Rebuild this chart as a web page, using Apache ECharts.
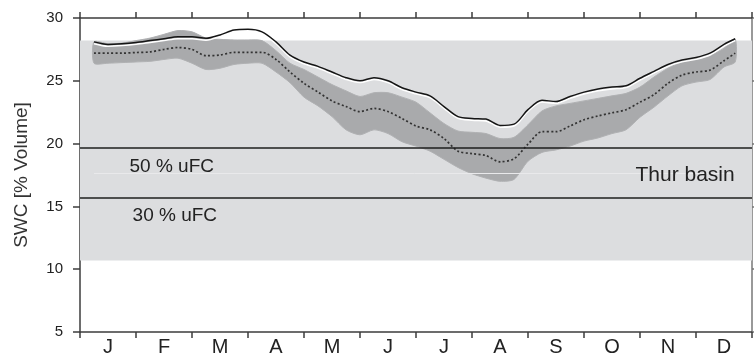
<!DOCTYPE html>
<html>
<head>
<meta charset="utf-8">
<script src="https://cdn.jsdelivr.net/npm/echarts@6/dist/echarts.min.js"></script>
<style>html,body{margin:0;padding:0;background:#fff}#c{width:754px;height:357px}</style>
</head>
<body>
<div id="c"></div>
<script>
// Month labels on the x axis
const monthLabels = ['J','F','M','A','M','J','J','A','S','O','N','D'];
// Y tick values
const yMin = 5, yMax = 30, yStep = 5;
// Time positions of samples (in months from 1 Jan)
const t = [0.25,0.5,0.75,1.0,1.25,1.5,1.75,2.0,2.25,2.5,2.75,3.0,3.25,3.5,3.75,4.0,4.25,4.5,4.75,5.0,5.25,5.5,5.75,6.0,6.25,6.5,6.75,7.0,7.25,7.5,7.75,8.0,8.25,8.5,8.75,9.0,9.25,9.5,9.75,10.0,10.25,10.5,10.75,11.0,11.25,11.5,11.7];
// Solid line (upper reference curve)
const solid = [28.1,27.9,27.95,28.05,28.2,28.35,28.5,28.5,28.38,28.65,29.04,29.1,28.9,28.1,27.05,26.5,26.15,25.7,25.25,25.0,25.25,25.0,24.45,24.1,23.8,22.95,22.15,22.0,21.95,21.45,21.55,22.7,23.45,23.35,23.75,24.1,24.35,24.5,24.6,25.2,25.75,26.3,26.65,26.85,27.2,27.9,28.35];
// Dotted line (median)
const median = [27.2,27.2,27.2,27.25,27.3,27.5,27.65,27.5,27.0,27.05,27.27,27.27,27.27,26.7,25.7,24.8,24.1,23.4,22.95,22.55,22.8,22.55,22.0,21.4,21.1,20.4,19.4,19.2,19.05,18.55,18.8,19.95,20.95,20.95,21.4,21.9,22.2,22.45,22.7,23.3,23.9,24.8,25.45,25.7,25.85,26.6,27.2];
// Dark band upper / lower bounds
const bandUpper = [28.1,27.95,28.0,28.2,28.4,28.7,29.0,28.9,28.4,28.3,28.25,28.25,28.2,27.4,26.4,25.9,25.3,24.7,24.2,23.75,24.05,24.05,23.7,23.3,22.45,21.6,21.0,20.9,20.8,20.4,20.5,21.5,22.6,23.0,23.2,23.4,23.6,23.8,24.0,24.5,25.3,26.0,26.5,26.7,27.0,27.6,28.3];
const bandLower = [26.4,26.4,26.45,26.5,26.55,26.7,26.8,26.4,25.9,26.0,26.3,26.4,26.4,25.7,24.85,23.7,23.0,22.15,21.1,20.7,21.1,20.8,20.15,19.8,19.4,18.75,18.1,17.6,17.25,17.0,17.15,18.6,19.3,19.5,19.8,20.2,20.45,20.8,21.1,22.1,22.9,23.8,24.6,24.9,25.1,26.1,26.5];
// Reference levels
const fc50 = 19.65, fc30 = 15.72, faintLevel = 17.6;
const rangeTop = 28.2, rangeBottom = 10.7;
// Annotations
const notes = [
  {text:'50 % uFC', x:0.875, y:18.14, side:'right', size:19},
  {text:'30 % uFC', x:0.93, y:14.24, side:'right', size:19},
  {text:'Thur basin', x:11.7, y:17.5, side:'left', size:21}
];

const FONT = 'Liberation Sans, Arial, Helvetica, sans-serif';
const AX = '#3c3c3c';
const pair = (arr) => t.map((x,i)=>[x, arr[i]]);
const bandData = t.map((x,i)=>[x, bandLower[i], bandUpper[i]]);

const chart = echarts.init(document.getElementById('c'), null, {renderer:'canvas'});
chart.setOption({
  animation:false,
  backgroundColor:'#fff',
  grid:{left:80, right:2, top:18, bottom:25, containLabel:false, outerBoundsMode:'none'},
  xAxis:[
    {type:'category', data:monthLabels, position:'bottom', boundaryGap:true,
     axisLine:{show:true, lineStyle:{color:AX, width:1.5}},
     axisTick:{show:true, inside:false, length:6, interval:0, alignWithLabel:false, lineStyle:{color:AX, width:1.5}},
     axisLabel:{show:true, interval:0, margin:5, fontSize:20, color:'#222', fontFamily:FONT},
     splitLine:{show:false}},
    {type:'value', min:0, max:12, interval:1, position:'top',
     axisLine:{show:true, lineStyle:{color:AX, width:1.5}},
     axisTick:{show:true, inside:false, length:6, lineStyle:{color:AX, width:1.5}},
     axisLabel:{show:false}, splitLine:{show:false}}
  ],
  yAxis:[
    {type:'value', min:yMin, max:yMax, interval:yStep, position:'left',
     name:'SWC [% Volume]', nameLocation:'middle', nameGap:49,
     nameTextStyle:{fontSize:19, color:'#333', fontFamily:FONT},
     axisLine:{show:true, lineStyle:{color:AX, width:1.5}},
     axisTick:{show:true, inside:false, length:7, lineStyle:{color:AX, width:1.5}},
     axisLabel:{show:true, margin:17, fontSize:15, color:'#222', fontFamily:FONT},
     splitLine:{show:false}},
    {type:'value', min:yMin, max:yMax, interval:yStep, position:'right',
     axisLine:{show:true, lineStyle:{color:'#777', width:1.5}},
     axisTick:{show:true, inside:false, length:6, lineStyle:{color:'#777', width:1.5}},
     axisLabel:{show:false}, splitLine:{show:false}}
  ],
  series:[
    {name:'bg', type:'line', xAxisIndex:1, yAxisIndex:0, z:1, silent:true,
     data:[[t[0], rangeTop]], symbol:'none', lineStyle:{opacity:0},
     markArea:{silent:true, itemStyle:{color:'#dcdddf'},
       data:[[{xAxis:0, yAxis:rangeBottom},{xAxis:12, yAxis:rangeTop}]]},
     markLine:{silent:true, symbol:'none', label:{show:false},
       lineStyle:{color:'#e9e9eb', width:1, type:'solid'},
       data:[[{coord:[t[0], faintLevel]},{coord:[t[t.length-1], faintLevel]}]]}},
    {name:'band', type:'custom', xAxisIndex:1, yAxisIndex:0, z:2, silent:true,
     data:bandData,
     renderItem:function(params, api){
       if (params.dataIndex !== 0) return null;
       const top = bandData.map(d => api.coord([d[0], d[2]]));
       const bot = bandData.slice().reverse().map(d => api.coord([d[0], d[1]]));
       return {type:'polygon', shape:{points: top.concat(bot), smooth:0.25},
               style:{fill:'#a9aaac', stroke:'#b0b1b3', lineWidth:1}};
     }},
    {name:'levels', type:'line', xAxisIndex:1, yAxisIndex:0, z:3, silent:true,
     data:[[t[0], fc50]], symbol:'none', lineStyle:{opacity:0},
     markLine:{silent:true, symbol:'none', label:{show:false},
       lineStyle:{color:'#1e1e1e', width:1.6, type:'solid'},
       data:[{yAxis:fc50},{yAxis:fc30}]},
     markPoint:{silent:true, symbol:'circle', symbolSize:1, itemStyle:{color:'rgba(0,0,0,0)'},
       data:notes.map(n=>({coord:[n.x, n.y], label:{show:true, formatter:n.text, position:n.side, distance:0,
         fontSize:n.size, color:'#222', fontFamily:FONT}}))}},
    {name:'median', type:'line', xAxisIndex:1, yAxisIndex:0, z:4, silent:true,
     data:pair(median), symbol:'none', smooth:0.3,
     lineStyle:{color:'#333', width:1.7, type:[2,2.3]}},
    {name:'solid', type:'line', xAxisIndex:1, yAxisIndex:0, z:5, silent:true,
     data:pair(solid), symbol:'none', smooth:0.3,
     lineStyle:{color:'#151515', width:1.5, shadowColor:'#ffffff', shadowOffsetY:1.8, shadowBlur:0}}
  ]
});
</script>
</body>
</html>
